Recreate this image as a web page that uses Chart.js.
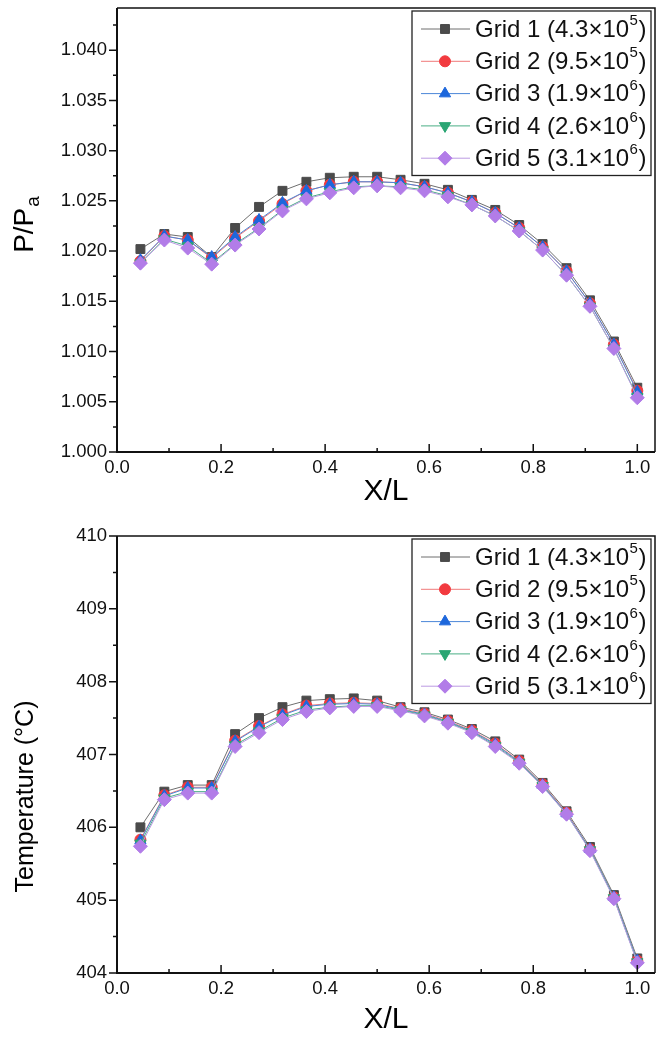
<!DOCTYPE html>
<html>
<head>
<meta charset="utf-8">
<script src="https://cdn.jsdelivr.net/npm/chart.js@4.4.0/dist/chart.umd.min.js"></script>
<style>
  body { margin: 0; background: #fff; }
  canvas { position: absolute; left: 0; }
  #pChart { top: 0; }
  #tChart { top: 520px; }
</style>
</head>
<body>
<canvas id="pChart" width="663" height="520"></canvas>
<canvas id="tChart" width="663" height="523"></canvas>
<script>
// X/L positions of the monitoring points
const xPos = [0.045, 0.091, 0.136, 0.182, 0.227, 0.273, 0.318, 0.364, 0.409, 0.455, 0.5,
              0.545, 0.591, 0.636, 0.682, 0.727, 0.773, 0.818, 0.864, 0.909, 0.955, 1.0];

// P/Pa for each grid
const pGrid1 = [1.0202, 1.0217, 1.0214, 1.0194, 1.0223, 1.0244, 1.0260, 1.0269, 1.0273, 1.0274, 1.0274,
                1.0271, 1.0267, 1.0261, 1.0251, 1.0241, 1.0226, 1.0207, 1.0183, 1.0151, 1.0110, 1.0064];
const pGrid2 = [1.0190, 1.0215, 1.0211, 1.0193, 1.0213, 1.0230, 1.0247, 1.0260, 1.0266, 1.0269, 1.0269,
                1.0268, 1.0264, 1.0258, 1.0249, 1.0238, 1.0223, 1.0204, 1.0180, 1.0148, 1.0107, 1.0061];
const pGrid3 = [1.0191, 1.0215, 1.0211, 1.0194, 1.0214, 1.0231, 1.0248, 1.0260, 1.0266, 1.0269, 1.0269,
                1.0268, 1.0264, 1.0258, 1.0249, 1.0238, 1.0223, 1.0204, 1.0180, 1.0148, 1.0107, 1.0060];
const pGrid4 = [1.0188, 1.0212, 1.0205, 1.0188, 1.0207, 1.0223, 1.0241, 1.0253, 1.0259, 1.0264, 1.0265,
                1.0264, 1.0261, 1.0255, 1.0246, 1.0235, 1.0220, 1.0201, 1.0176, 1.0145, 1.0103, 1.0055];
const pGrid5 = [1.0188, 1.0211, 1.0203, 1.0187, 1.0206, 1.0222, 1.0240, 1.0252, 1.0258, 1.0263, 1.0265,
                1.0263, 1.0260, 1.0254, 1.0246, 1.0235, 1.0220, 1.0201, 1.0176, 1.0145, 1.0103, 1.0054];

// Temperature (°C) for each grid
const tGrid1 = [406.00, 406.49, 406.58, 406.58, 407.28, 407.50, 407.65, 407.74, 407.76, 407.77, 407.74,
                407.65, 407.58, 407.48, 407.35, 407.18, 406.93, 406.61, 406.22, 405.73, 405.07, 404.20];
const tGrid2 = [405.83, 406.44, 406.55, 406.55, 407.19, 407.39, 407.55, 407.67, 407.70, 407.71, 407.70,
                407.63, 407.56, 407.46, 407.33, 407.15, 406.91, 406.59, 406.20, 405.70, 405.04, 404.17];
const tGrid3 = [405.82, 406.43, 406.54, 406.54, 407.18, 407.38, 407.54, 407.66, 407.69, 407.70, 407.69,
                407.62, 407.55, 407.45, 407.32, 407.14, 406.90, 406.58, 406.19, 405.70, 405.04, 404.17];
const tGrid4 = [405.78, 406.40, 406.49, 406.49, 407.13, 407.32, 407.50, 407.61, 407.65, 407.67, 407.67,
                407.61, 407.54, 407.44, 407.31, 407.12, 406.89, 406.57, 406.18, 405.69, 405.03, 404.15];
const tGrid5 = [405.74, 406.38, 406.47, 406.47, 407.11, 407.30, 407.48, 407.59, 407.64, 407.66, 407.66,
                407.60, 407.53, 407.43, 407.30, 407.11, 406.88, 406.56, 406.18, 405.68, 405.02, 404.14];

// legend text pieces
const gridNames = ["Grid 1", "Grid 2", "Grid 3", "Grid 4", "Grid 5"];
const cellMant = ["4.3", "9.5", "1.9", "2.6", "3.1"];
const cellExp = ["5", "5", "6", "6", "6"];

// axis ticks
const xTicks = [0, 0.2, 0.4, 0.6, 0.8, 1.0];
const xMinor = [0.1, 0.3, 0.5, 0.7, 0.9];
const pTicks = [1.000, 1.005, 1.010, 1.015, 1.020, 1.025, 1.030, 1.035, 1.040];
const pMinor = [1.0025, 1.0075, 1.0125, 1.0175, 1.0225, 1.0275, 1.0325, 1.0375, 1.0425];
const tTicks = [404, 405, 406, 407, 408, 409, 410];
const tMinor = [404.5, 405.5, 406.5, 407.5, 408.5, 409.5];

const markerColors = ["#4b4b4b", "#f23a3f", "#1d67dc", "#2ba674", "#b27ce8"];
const lineColors = ["#6e6e6e", "#f07a7a", "#4a86d8", "#4aae86", "#bb9ae2"];
const pointStyles = ["rect", "circle", "triangle", "triangle", "rectRot"];
const pointRots = [0, 0, 0, 180, 0];
const pointRadii = [6.3, 5.5, 6.5, 6.5, 7];

const FONT = "Arial, 'Liberation Sans', Helvetica, sans-serif";

function makeDatasets(series) {
  return series.map((vals, i) => ({
    label: gridNames[i],
    data: vals.map((v, k) => ({ x: xPos[k], y: v })),
    borderColor: lineColors[i],
    borderWidth: 1,
    backgroundColor: markerColors[i],
    pointBackgroundColor: markerColors[i],
    pointBorderColor: markerColors[i],
    pointBorderWidth: 1,
    pointStyle: pointStyles[i],
    pointRotation: pointRots[i],
    pointRadius: pointRadii[i],
    pointHoverRadius: pointRadii[i],
    order: 5 - i,
    tension: 0
  }));
}

// frame + Origin style ticks (x inward, y outward) + y title
const framePlugin = {
  id: "frame",
  afterDraw(chart, args, opts) {
    const { ctx, chartArea: a, scales } = chart;
    const xs = scales.x, ys = scales.y;
    ctx.save();
    ctx.strokeStyle = "#111";
    ctx.lineWidth = 1.5;
    ctx.beginPath();
    ctx.moveTo(a.left, a.top); ctx.lineTo(a.right, a.top); ctx.lineTo(a.right, a.bottom);
    ctx.stroke();
    ctx.lineWidth = 2;
    ctx.beginPath();
    ctx.moveTo(a.left, a.top); ctx.lineTo(a.left, a.bottom); ctx.lineTo(a.right, a.bottom);
    ctx.stroke();
    ctx.lineWidth = 1.5;
    ctx.beginPath();
    xTicks.forEach(v => { const px = xs.getPixelForValue(v); ctx.moveTo(px, a.bottom); ctx.lineTo(px, a.bottom - 8); });
    xMinor.forEach(v => { const px = xs.getPixelForValue(v); ctx.moveTo(px, a.bottom); ctx.lineTo(px, a.bottom - 4); });
    opts.major.forEach(v => { const py = ys.getPixelForValue(v); ctx.moveTo(a.left, py); ctx.lineTo(a.left - 8, py); });
    opts.minor.forEach(v => { const py = ys.getPixelForValue(v); if (py >= a.top) { ctx.moveTo(a.left, py); ctx.lineTo(a.left - 4, py); } });
    ctx.stroke();

    // rotated y title, optional subscript part
    const t = opts.title;
    ctx.translate(t.x, (a.top + a.bottom) / 2 + t.shift);
    ctx.rotate(-Math.PI / 2);
    ctx.fillStyle = "#000";
    ctx.textBaseline = "alphabetic";
    ctx.font = t.size + "px " + FONT;
    const w1 = ctx.measureText(t.main).width;
    ctx.font = Math.round(t.size * 0.68) + "px " + FONT;
    const w2 = t.sub ? ctx.measureText(t.sub).width : 0;
    const x0 = -(w1 + w2) / 2;
    ctx.font = t.size + "px " + FONT;
    ctx.fillText(t.main, x0, 0);
    if (t.sub) {
      ctx.font = Math.round(t.size * 0.68) + "px " + FONT;
      ctx.fillText(t.sub, x0 + w1 + 1, 6);
    }
    ctx.restore();
  }
};

// legend with line + marker, inside the plot area
const boxLegend = {
  id: "boxLegend",
  afterDatasetsDraw(chart) {
    const { ctx, chartArea: a } = chart;
    const right = a.right - 4, top = a.top + 3;
    const w = 239, rowH = 32.3, h = rowH * 5 + 3;
    const left = right - w;
    ctx.save();
    ctx.fillStyle = "#fff";
    ctx.fillRect(left, top, w, h);
    ctx.strokeStyle = "#222";
    ctx.lineWidth = 1.3;
    ctx.strokeRect(left, top, w, h);
    const drawPoint = Chart.helpers && Chart.helpers.drawPoint;
    chart.data.datasets.forEach((ds, i) => {
      const cy = top + 18 + i * rowH;
      ctx.strokeStyle = ds.borderColor;
      ctx.lineWidth = 1;
      ctx.beginPath();
      ctx.moveTo(left + 9, cy); ctx.lineTo(left + 58, cy);
      ctx.stroke();
      ctx.fillStyle = ds.pointBackgroundColor;
      ctx.strokeStyle = ds.pointBorderColor;
      if (drawPoint) {
        drawPoint(ctx, { pointStyle: ds.pointStyle, rotation: ds.pointRotation, radius: ds.pointRadius, borderWidth: 1 }, left + 33, cy);
      }
      ctx.fillStyle = "#111";
      ctx.textBaseline = "middle";
      ctx.font = "24px " + FONT;
      const txt = gridNames[i] + " (" + cellMant[i] + "\u00d710";
      let x = left + 63;
      ctx.fillText(txt, x, cy + 1);
      x += ctx.measureText(txt).width;
      ctx.font = "15px " + FONT;
      ctx.fillText(cellExp[i], x + 0.5, cy - 8);
      x += ctx.measureText(cellExp[i]).width + 1;
      ctx.font = "24px " + FONT;
      ctx.fillText(")", x, cy + 1);
    });
    ctx.restore();
  }
};

function makeChart(id, series, yMin, yMax, yMajor, yMinorVals, decimals, title, padTop, xAxisH, xTitlePad) {
  return new Chart(document.getElementById(id), {
    type: "line",
    data: { datasets: makeDatasets(series) },
    plugins: [framePlugin, boxLegend],
    options: {
      responsive: false,
      animation: false,
      events: [],
      layout: { padding: { top: padTop, right: 2, left: 0, bottom: 0 } },
      plugins: {
        legend: { display: false },
        tooltip: { enabled: false },
        frame: { major: yMajor, minor: yMinorVals, title: title }
      },
      scales: {
        x: {
          type: "linear",
          min: 0,
          max: 1.034,
          afterBuildTicks: s => { s.ticks = xTicks.map(v => ({ value: v })); },
          afterFit: s => { s.height = xAxisH; s.paddingLeft = 0; s.paddingRight = 0; },
          grid: { display: false, drawTicks: false },
          border: { display: false },
          ticks: {
            padding: 5,
            color: "#111",
            font: { family: FONT, size: 18.5 },
            maxRotation: 0,
            callback: v => v.toFixed(1)
          },
          title: {
            display: true,
            text: "X/L",
            color: "#000",
            font: { family: FONT, size: 30 },
            padding: { top: 0, bottom: xTitlePad }
          }
        },
        y: {
          type: "linear",
          min: yMin,
          max: yMax,
          afterBuildTicks: s => { s.ticks = yMajor.map(v => ({ value: v })); },
          afterFit: s => { s.width = 117; s.paddingTop = 0; s.paddingBottom = 0; },
          grid: { display: false, drawTicks: false },
          border: { display: false },
          ticks: {
            padding: 10,
            color: "#111",
            font: { family: FONT, size: 18.5 },
            callback: v => v.toFixed(decimals)
          }
        }
      }
    }
  });
}

makeChart("pChart", [pGrid1, pGrid2, pGrid3, pGrid4, pGrid5], 1.000, 1.0442, pTicks, pMinor, 3,
          { main: "P/P", sub: "a", size: 28, x: 33, shift: -5 }, 8, 68, 10);
makeChart("tChart", [tGrid1, tGrid2, tGrid3, tGrid4, tGrid5], 404, 410, tTicks, tMinor, 0,
          { main: "Temperature (\u00b0C)", sub: "", size: 25, x: 33, shift: 42 }, 16, 70, 5);
</script>
</body>
</html>
